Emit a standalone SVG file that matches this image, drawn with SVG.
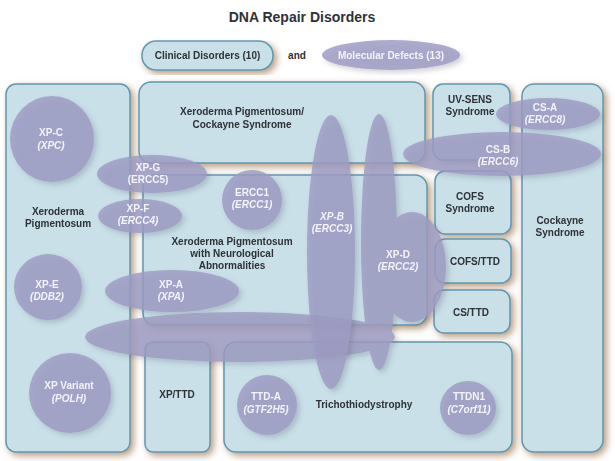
<svg xmlns="http://www.w3.org/2000/svg" width="615" height="461" viewBox="0 0 615 461">
<defs>
<filter id="bshadow" x="-10%" y="-10%" width="125%" height="125%">
<feGaussianBlur in="SourceAlpha" stdDeviation="3.5"/>
<feOffset dx="3" dy="3" result="o"/>
<feFlood flood-color="#9a7045" flood-opacity="0.7"/>
<feComposite in2="o" operator="in"/>
<feMerge><feMergeNode/><feMergeNode in="SourceGraphic"/></feMerge>
</filter>
<filter id="eshadow" x="-15%" y="-15%" width="135%" height="135%">
<feGaussianBlur in="SourceAlpha" stdDeviation="2.5"/>
<feOffset dx="3" dy="3" result="o"/>
<feFlood flood-color="#555566" flood-opacity="0.3"/>
<feComposite in2="o" operator="in"/>
<feMerge><feMergeNode/><feMergeNode in="SourceGraphic"/></feMerge>
</filter>
</defs>
<style>
.box{fill:#c9e0e9;stroke:#5f98b0;stroke-width:1.5}
.mol{fill:#9e9bc3;opacity:0.82}
.molg{opacity:0.82}
.molg ellipse{fill:#9e9bc3}
text{font-family:"Liberation Sans",Arial,sans-serif;font-weight:bold;font-size:10px;text-anchor:middle}
.bl{fill:#2e3236}
.ml{fill:#f3f3f9}
.it{font-style:italic}
</style>
<rect width="615" height="461" fill="#ffffff"/>
<text x="302" y="22" style="font-size:14px" class="bl">DNA Repair Disorders</text>

<g id="legend-clinical" filter="url(#bshadow)">
<rect class="box" x="142" y="41" width="131" height="29" rx="14"/>
<text x="207.5" y="59" class="bl">Clinical Disorders (10)</text>
</g>
<text x="297" y="59" class="bl">and</text>
<g id="legend-molecular" filter="url(#eshadow)">
<ellipse class="mol" cx="391" cy="55" rx="69" ry="15"/>
<text x="391" y="59" class="ml">Molecular Defects (13)</text>
</g>

<g id="connectors"/>

<g id="box-xp" filter="url(#bshadow)">
<rect class="box" x="6" y="84" width="124" height="368" rx="10"/>
<text x="58" y="215" class="bl">Xeroderma</text>
<text x="58" y="227" class="bl">Pigmentosum</text>
</g>
<g id="box-xpcs" filter="url(#bshadow)">
<rect class="box" x="139" y="82" width="286" height="81" rx="12"/>
<text x="242" y="115" class="bl">Xeroderma Pigmentosum/</text>
<text x="242" y="128" class="bl">Cockayne Syndrome</text>
</g>
<g id="box-uvsens" filter="url(#bshadow)">
<rect class="box" x="433" y="84" width="77" height="76" rx="10"/>
<text x="470" y="103" class="bl">UV-SENS</text>
<text x="470" y="115" class="bl">Syndrome</text>
</g>
<g id="box-cockayne" filter="url(#bshadow)">
<rect class="box" x="522" y="84" width="81" height="368" rx="12"/>
<text x="560" y="224" class="bl">Cockayne</text>
<text x="560" y="236" class="bl">Syndrome</text>
</g>
<g id="box-xpneuro" filter="url(#bshadow)">
<rect class="box" x="143" y="175" width="284" height="150" rx="12"/>
<text x="232" y="245" class="bl">Xeroderma Pigmentosum</text>
<text x="232" y="257" class="bl">with Neurological</text>
<text x="232" y="269" class="bl">Abnormalities</text>
</g>
<g id="box-cofs" filter="url(#bshadow)">
<rect class="box" x="435" y="171" width="76" height="63" rx="10"/>
<text x="470" y="200" class="bl">COFS</text>
<text x="470" y="212" class="bl">Syndrome</text>
</g>
<g id="box-cofsttd" filter="url(#bshadow)">
<rect class="box" x="435" y="239" width="76" height="44" rx="10"/>
<text x="475" y="265" class="bl">COFS/TTD</text>
</g>
<g id="box-csttd" filter="url(#bshadow)">
<rect class="box" x="434" y="290" width="76" height="43" rx="10"/>
<text x="471" y="316" class="bl">CS/TTD</text>
</g>
<g id="box-xpttd" filter="url(#bshadow)">
<rect class="box" x="145" y="342" width="65" height="110" rx="8"/>
<text x="177" y="398" class="bl">XP/TTD</text>
</g>
<g id="box-ttd" filter="url(#bshadow)">
<rect class="box" x="224" y="342" width="288" height="110" rx="12"/>
<text x="364" y="408" class="bl">Trichothiodystrophy</text>
</g>

<g id="mol-xpc" filter="url(#eshadow)">
<ellipse class="mol" cx="52" cy="139" rx="42" ry="43"/>
<text x="51" y="136" class="ml">XP-C</text>
<text x="51" y="149" class="ml it">(XPC)</text>
</g>
<g id="mol-xpg" filter="url(#eshadow)">
<ellipse class="mol" cx="152" cy="174" rx="55" ry="19"/>
<text x="148" y="171" class="ml">XP-G</text>
<text x="148" y="183" class="ml">(ERCC5)</text>
</g>
<g id="mol-xpf" filter="url(#eshadow)">
<ellipse class="mol" cx="140" cy="216" rx="42" ry="17"/>
<text x="138" y="212" class="ml">XP-F</text>
<text x="138" y="224" class="ml it">(ERCC4)</text>
</g>
<g id="mol-ercc1" filter="url(#eshadow)">
<ellipse class="mol" cx="252" cy="200" rx="30" ry="30"/>
<text x="252" y="196" class="ml">ERCC1</text>
<text x="252" y="208" class="ml it">(ERCC1)</text>
</g>
<g id="mol-xpe" filter="url(#eshadow)">
<ellipse class="mol" cx="48" cy="287" rx="34" ry="33"/>
<text x="47" y="288" class="ml">XP-E</text>
<text x="47" y="300" class="ml it">(DDB2)</text>
</g>
<g id="mol-xpa" filter="url(#eshadow)">
<ellipse class="mol" cx="172" cy="291" rx="67" ry="21"/>
<text x="171" y="288" class="ml">XP-A</text>
<text x="171" y="300" class="ml it">(XPA)</text>
</g>
<g id="mol-xpv" filter="url(#eshadow)">
<ellipse class="mol" cx="70" cy="393" rx="41" ry="40"/>
<text x="69" y="389" class="ml">XP Variant</text>
<text x="69" y="402" class="ml it">(POLH)</text>
</g>
<g id="mol-ttda" filter="url(#eshadow)">
<ellipse class="mol" cx="267" cy="405" rx="30" ry="30"/>
<text x="266" y="400" class="ml">TTD-A</text>
<text x="266" y="413" class="ml it">(GTF2H5)</text>
</g>
<g id="mol-ttdn1" filter="url(#eshadow)">
<ellipse class="mol" cx="468" cy="408" rx="28" ry="27"/>
<text x="469" y="400" class="ml">TTDN1</text>
<text x="469" y="413" class="ml it">(C7orf11)</text>
</g>
<g id="mol-xpd" filter="url(#eshadow)">
<g class="molg">
<ellipse cx="240" cy="337" rx="155" ry="25"/>
<ellipse cx="379" cy="242" rx="18" ry="128"/>
<ellipse cx="412" cy="267" rx="34" ry="55"/>
</g>
<text x="398" y="258" class="ml">XP-D</text>
<text x="398" y="270" class="ml it">(ERCC2)</text>
</g>
<g id="mol-xpb" filter="url(#eshadow)">
<ellipse class="mol" cx="331" cy="252" rx="24" ry="137"/>
<text x="332" y="220" class="ml it">XP-B</text>
<text x="332" y="232" class="ml it">(ERCC3)</text>
</g>
<g id="mol-csa" filter="url(#eshadow)">
<ellipse class="mol" cx="548" cy="114" rx="52" ry="16"/>
<text x="545" y="111" class="ml">CS-A</text>
<text x="545" y="123" class="ml it">(ERCC8)</text>
</g>
<g id="mol-csb" filter="url(#eshadow)">
<ellipse class="mol" cx="502" cy="154" rx="99" ry="22"/>
<text x="498" y="153" class="ml">CS-B</text>
<text x="498" y="165" class="ml it">(ERCC6)</text>
</g>
</svg>
